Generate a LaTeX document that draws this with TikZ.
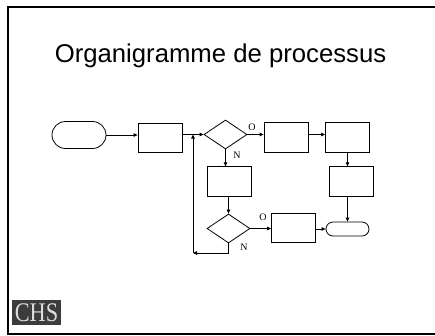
\documentclass[tikz,border=0pt]{standalone}
\usepackage{fontspec}
\setmainfont{Liberation Serif}
\newfontfamily\titlefont{Liberation Sans}
\usetikzlibrary{calc}
\usetikzlibrary{arrows.meta}
\usetikzlibrary{shapes.geometric}
\definecolor{logogray}{HTML}{3C3C3C}
\definecolor{logotext}{HTML}{DCDCDC}

\begin{document}
\begin{tikzpicture}[x=1bp,y=-1bp,
  box/.style={draw,black,line width=0.8bp,minimum width=44bp,minimum height=29.5bp,inner sep=0pt},
  term/.style={draw,black,line width=0.8bp,inner sep=0pt},
  test/.style={draw,black,diamond,line width=0.8bp,minimum width=43bp,minimum height=29bp,inner sep=0pt},
  lab/.style={font=\fontsize{10}{10}\selectfont,inner sep=0pt},
  arr/.style={black,line width=0.8bp,-{Triangle[length=4bp,width=3.5bp]}}]

\useasboundingbox (0,0) rectangle (435,335);

% cadre
\draw[black,line width=2.2bp] (435,7.2) -- (7.8,7.2) -- (7.8,333.8) -- (435,333.8);

\node[anchor=base,font=\titlefont\fontsize{25.8}{25.8}\selectfont] (title) at (220.5,62) {Organigramme de processus};

% formes
\node[term,minimum width=54bp,minimum height=27bp,rounded corners=13.5bp] (start) at (79,135) {};
\node[box] (b1) at (160,138) {};
\node[test] (d1) at (225.5,134.5) {};
\node[box] (o1) at (286,137.5) {};
\node[box] (o2) at (347.5,137.5) {};
\node[box] (r1) at (351,181.5) {};
\node[term,minimum width=43bp,minimum height=14bp,rounded corners=7bp] (end) at (347.5,229) {};
\node[box] (n1) at (229,181.5) {};
\node[test] (d2) at (228.5,228.5) {};
\node[box] (o3) at (293.5,228) {};

\coordinate (loop) at (193,253);
\coordinate (join) at (loop |- d1.west);

% fleches
\draw[arr] (start.east) -- (start.east -| b1.west);
\draw[arr] (b1.east |- d1.west) -- (d1.west);
\draw[arr] (d1.east) -- (d1.east -| o1.west);
\draw[arr] (o1.east |- d1.east) -- (o2.west |- d1.east);
\draw[arr] (o2.south) -- (o2.south |- r1.north);
\draw[arr] (r1.south -| end.north) -- (end.north);
\draw[arr] (d1.south) -- (d1.south |- n1.north);
\draw[arr] (n1.south -| d2.north) -- (d2.north);
\draw[arr] (d2.east) -- (d2.east -| o3.west);
\draw[arr] (o3.east |- end.west) -- (end.west);
\draw[arr] (d2.south) |- (loop);
\draw[arr] (loop) -- (join);

% O / N
\node[lab] (lo1) at (252,127) {O};
\node[lab] (ln1) at (237,155) {N};
\node[lab] (lo2) at (263,217) {O};
\node[lab] (ln2) at (244,247) {N};

% logo
\node[fill=logogray,minimum width=49bp,minimum height=25bp,inner sep=0pt] (logo) at (36.5,312.5) {};
\node[anchor=base,text=logotext,inner sep=0pt,font=\fontsize{27}{27}\selectfont] (chs) at (36.5,321) {\scalebox{0.83}[1]{CHS}};

\end{tikzpicture}
\end{document}
